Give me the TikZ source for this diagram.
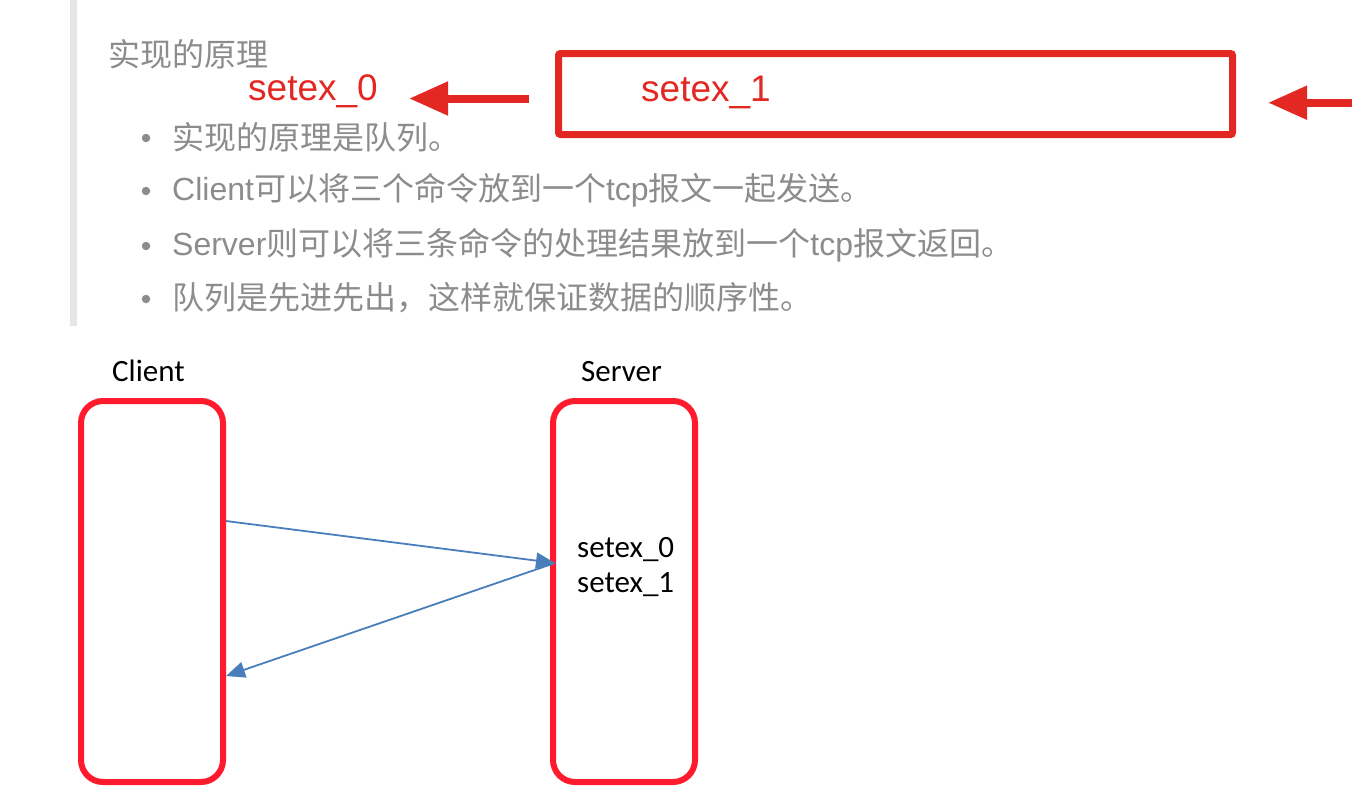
\documentclass[tikz,border=0pt]{standalone}
\usepackage{fontspec}
\setmainfont{Liberation Sans}
\newfontfamily\cjk{Noto Sans CJK SC}
\newfontfamily\calib{Carlito}
\usetikzlibrary{arrows.meta}
\definecolor{topred}{HTML}{E32722}
\definecolor{boxred}{HTML}{FF1A2E}
\definecolor{arrblue}{HTML}{4A7EBB}
\definecolor{greytext}{HTML}{8C8C8C}
\definecolor{bargrey}{HTML}{E6E6E6}
\tikzset{
  greytxt/.style={anchor=west, inner sep=0pt, text=greytext, font=\cjk\fontsize{32}{38}\selectfont},
  bulletdot/.style={circle, fill=greytext, inner sep=0pt, minimum size=8.5pt},
  redlabel/.style={anchor=base west, inner sep=0pt, text=topred, font=\fontsize{37}{41}\selectfont},
  redarrow/.style={draw=topred, line width=8pt, -{Triangle[length=39pt, width=32pt]}},
  lifebox/.style={draw=boxred, line width=6pt, rounded corners=22pt, minimum width=142pt, minimum height=381pt, inner sep=0pt},
  calibtxt/.style={anchor=base west, inner sep=0pt, text=black, font=\calib\fontsize{31}{35}\selectfont},
  bluearrow/.style={draw=arrblue, line width=1.8pt, -{Triangle[length=19pt, width=16pt]}}
}
\begin{document}
\begin{tikzpicture}[x=1pt, y=-1pt]
\useasboundingbox (0,0) rectangle (1364,790);
% left quote bar
\fill[bargrey] (70,0) rectangle (77,326);
% heading
\node[greytxt] (head) at (108,54) {实现的原理};
% red annotation
\node[redlabel] (rs0) at (248,100) {setex\_0};
\draw[draw=topred, line width=7pt, rounded corners=2pt] (558.5,53.5) rectangle (1232.5,134.5);
\node[inner sep=0pt] (frame) at (895.5,94) {};
\node[redlabel] (rs1) at (641,101.5) {setex\_1};
\coordinate (a1s) at (529,98.5);
\coordinate (a1e) at (409,98.5);
\draw[redarrow] (a1s) -- (a1e);
\coordinate (a2s) at (1352,102.7);
\coordinate (a2e) at (1268,102.7);
\draw[redarrow] (a2s) -- (a2e);
% bullets
\node[bulletdot] (d1) at (146,138) {};
\node[greytxt] (b1) at (172,137) {实现的原理是队列。};
\node[bulletdot] (d2) at (146,191) {};
\node[greytxt] (b2) at (172,190) {\fontspec{Liberation Sans}Client{\cjk 可以将三个命令放到一个}tcp{\cjk 报文一起发送。}};
\node[bulletdot] (d3) at (146,246) {};
\node[greytxt] (b3) at (172,245) {\fontspec{Liberation Sans}Server{\cjk 则可以将三条命令的处理结果放到一个}tcp{\cjk 报文返回。}};
\node[bulletdot] (d4) at (146,299) {};
\node[greytxt] (b4) at (172,298) {队列是先进先出，这样就保证数据的顺序性。};
% diagram
\node[calibtxt] (clab) at (112,381) {Client};
\node[calibtxt] (slab) at (581,381) {Server};
\node[lifebox] (client) at (152,591.5) {};
\node[lifebox] (server) at (624,591.5) {};
\node[calibtxt] (q0) at (577,557) {setex\_0};
\node[calibtxt] (q1) at (577,592) {setex\_1};
\draw[bluearrow] ([yshift=70.5pt]client.east) -- ([xshift=5pt,yshift=28.5pt]server.west);
\draw[bluearrow] ([xshift=5pt,yshift=28.5pt]server.west) -- ([yshift=-84.5pt]client.east);
\end{tikzpicture}
\end{document}
